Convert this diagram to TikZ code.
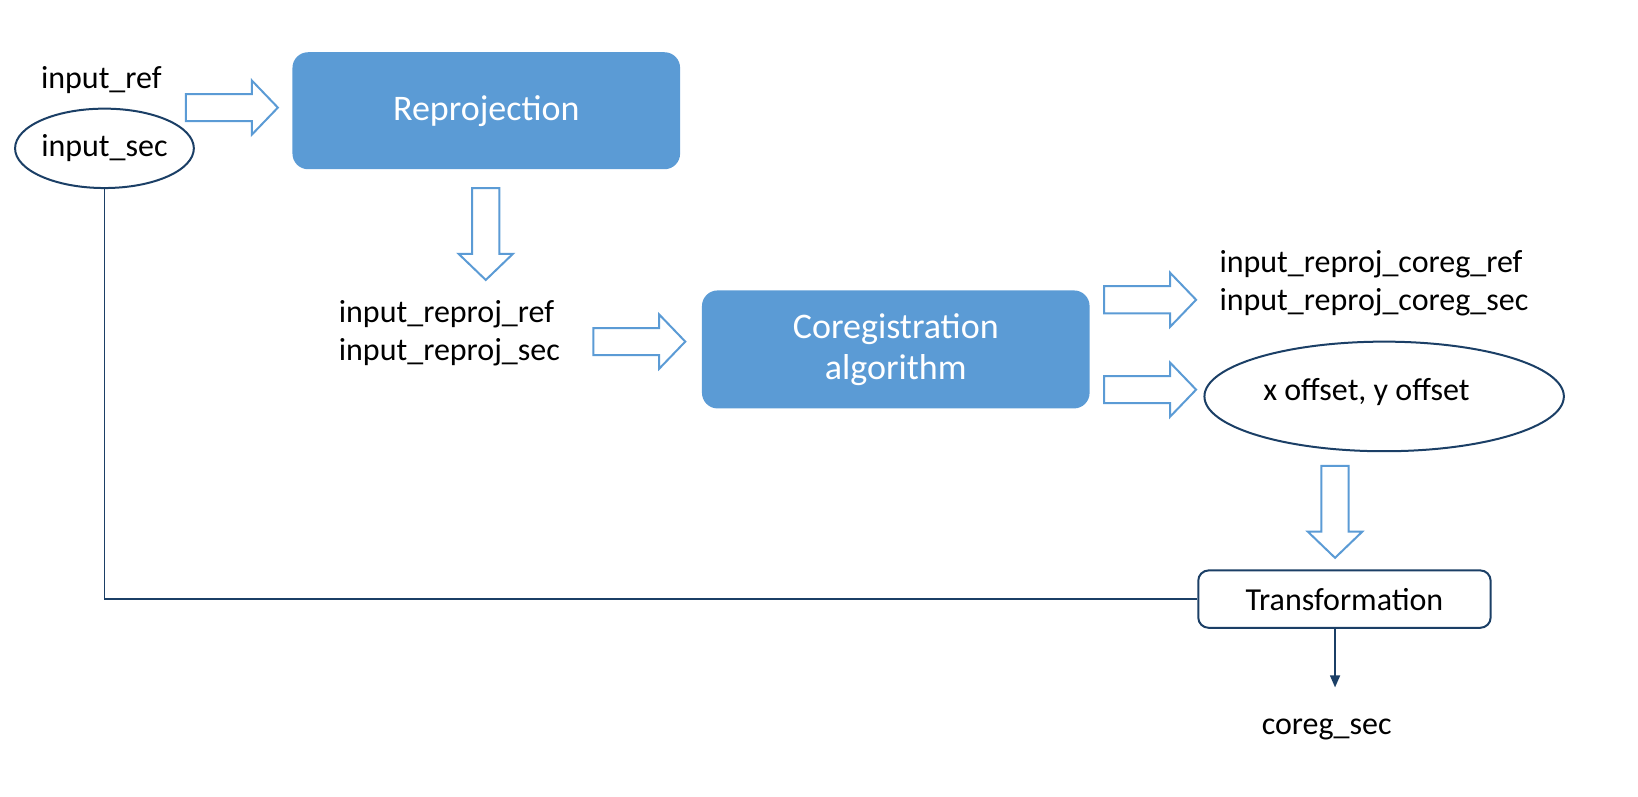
\documentclass[tikz,border=0pt]{standalone}
\usepackage{fontspec}
\setmainfont{Carlito}
\usetikzlibrary{shapes.geometric,arrows.meta}

\definecolor{boxblue}{HTML}{5B9BD5}
\definecolor{navy}{HTML}{1B3F66}

\tikzset{
	txt/.style={font=\fontsize{16}{19}\selectfont, inner sep=0pt},
	stagebox/.style={font=\fontsize{18}{20.5}\selectfont, inner sep=0pt, rectangle, rounded corners=7.8pt,
		fill=boxblue, text=white, minimum width=193.8pt, minimum height=58.5pt, align=center},
	oval/.style={txt, ellipse, draw=navy, line width=1pt},
	link/.style={draw=navy, line width=0.8pt},
	pics/barrow/.style={code={
		\draw[boxblue, line width=1pt, fill=white]
			(0,-13) -- (63,-13) -- (63,-26) -- (88,0) -- (63,26) -- (63,13) -- (0,13) -- cycle;
	}}
}

\begin{document}
\begin{tikzpicture}[x=0.5223pt, y=-0.5223pt]
	\useasboundingbox (0,0) rectangle (1568,762);
	% inputs
	\node[txt] (inref) at (97,77) {input\_ref};
	\node[oval, minimum width=88.8pt, minimum height=39.7pt] (insec) at (100,142) {input\_sec};
	% stages
	\node[stagebox] (reproj) at (465.5,106) {Reprojection};
	\node[txt, align=left, anchor=west] (reprojout) at (324,319) {input\_reproj\_ref\\input\_reproj\_sec};
	\node[stagebox, minimum height=59pt] (coreg) at (857.5,334.5) {Coregistration\\algorithm};
	\node[txt, align=left, anchor=west] (coregout) at (1167,271) {input\_reproj\_coreg\_ref\\input\_reproj\_coreg\_sec};
	\node[oval, minimum width=179.7pt, minimum height=54.8pt] (offs) at (1325,379.5) {};
	\node[txt] (offstxt) at (1308,375) {x offset, y offset};
	\node[txt, rectangle, rounded corners=5.2pt, draw=navy, line width=1pt,
		minimum width=146.2pt, minimum height=28.7pt] (trans) at (1287,573.5) {Transformation};
	\node[txt] (coregsec) at (1270,698) {coreg\_sec};
	% block arrows
	\foreach \x/\y in {178/103, 568/327, 1057/287, 1057/373}
	{
		\pic at (\x,\y) {barrow};
	}
	\pic[rotate=-90] at (465,180) {barrow};
	\pic[rotate=-90] at (1278,446) {barrow};
	% connectors
	\coordinate (out) at (1278,658);
	\draw[link] (insec.south) -- (insec.south |- trans.west) -- (trans.west);
	\draw[link, -{Triangle[length=6pt,width=5pt]}] (trans.south -| out) -- (out);
\end{tikzpicture}
\end{document}
